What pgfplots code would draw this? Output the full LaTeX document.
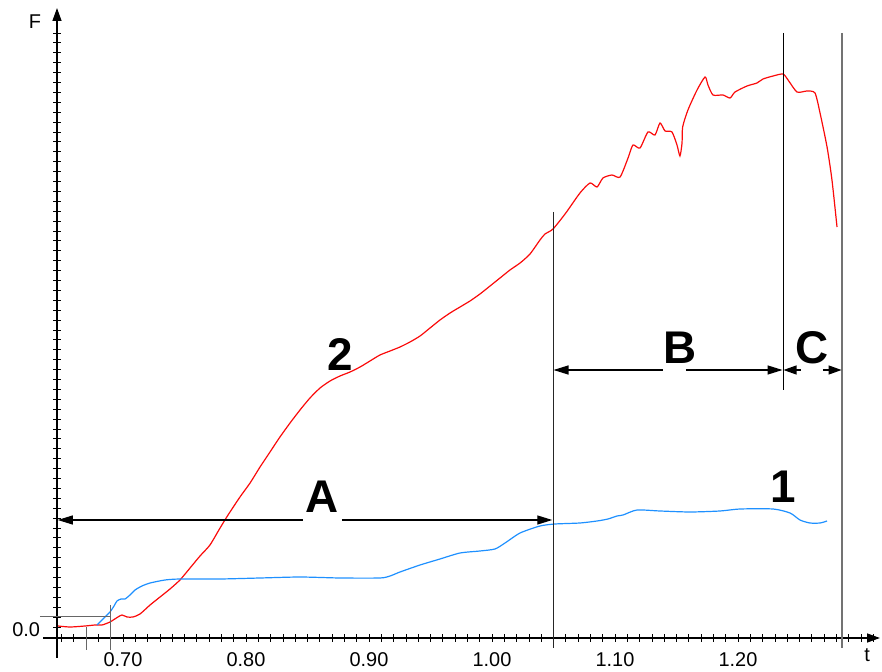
\documentclass[border=0pt]{standalone}
\usepackage{fontspec}
\setmainfont{Liberation Sans}
\usepackage{pgfplots}
\pgfplotsset{compat=1.18}
\usetikzlibrary{arrows.meta}
\definecolor{cblue}{RGB}{30,144,255}
\definecolor{cred}{RGB}{250,10,10}
\begin{document}
\begin{tikzpicture}
\useasboundingbox (0,0) rectangle (882bp,672bp);
\begin{axis}[
 at={(57bp,34bp)}, anchor=south west,
 scale only axis, width=823bp, height=630bp,
 xmin=0.64634, xmax=1.31545, ymin=-1.1, ymax=61.9,
 axis lines*=left,
 axis line style={line width=1.3bp, -{Triangle[length=13bp,width=9bp]}},
 clip=false,
 xtick={0.70,0.80,0.90,1.00,1.10,1.20},
 xticklabels={0.70,0.80,0.90,1.00,1.10,1.20},
 minor xtick={0.65,0.66,...,1.305},
 ytick={0}, yticklabels={0.0},
 minor ytick={0.99,1.98,...,59.5},
 tick align=center,
 major tick length=7bp, minor tick length=7bp,
 tick style={black, line width=0.8bp},
 tick label style={font=\fontsize{20}{24}\selectfont},
 xticklabel style={yshift=-8bp},
 yticklabel style={xshift=-10bp, yshift=-3bp},
]
% curve 2 (red)
\addplot[cred, line width=1.2bp, no markers, smooth, tension=0.4] coordinates {
(0.6472,0.1)(0.6569,0.0)(0.6691,0.1)(0.6772,0.2)(0.6829,0.2)(0.6894,0.5)
(0.6959,1.0)(0.6992,1.2)(0.7033,1.0)(0.7081,1.0)(0.7138,1.3)(0.7220,2.2)
(0.7301,3.0)(0.7382,3.8)(0.7463,4.7)(0.7545,5.9)(0.7626,7.1)(0.7707,8.2)
(0.7789,9.9)(0.7854,11.2)(0.7951,13.0)(0.8033,14.4)(0.8114,16.0)(0.8195,17.5)
(0.8276,19.0)(0.8358,20.4)(0.8439,21.7)(0.8520,22.9)(0.8602,23.9)(0.8683,24.6)
(0.8764,25.1)(0.8846,25.5)(0.8927,26.0)(0.9008,26.6)(0.9089,27.2)(0.9171,27.6)
(0.9252,28.0)(0.9333,28.5)(0.9415,29.1)(0.9496,29.9)(0.9577,30.7)(0.9659,31.4)
(0.9740,32.0)(0.9821,32.6)(0.9902,33.3)(0.9984,34.1)(1.0065,34.9)(1.0146,35.7)
(1.0228,36.4)(1.0309,37.3)(1.0390,38.7)(1.0431,39.3)(1.0496,39.8)(1.0600,41.4)
(1.0715,43.4)(1.0797,44.4)(1.0854,44.0)(1.0902,44.9)(1.0976,45.2)(1.1041,45.0)
(1.1106,46.9)(1.1146,48.2)(1.1203,47.9)(1.1268,49.5)(1.1325,49.2)(1.1366,50.4)
(1.1407,49.6)(1.1463,49.5)(1.1504,48.2)(1.1528,47.1)(1.1545,48.4)(1.1550,50.0)
(1.1593,51.7)(1.1667,53.7)(1.1732,55.0)(1.1756,54.2)(1.1797,53.2)(1.1878,53.2)
(1.1935,52.9)(1.1976,53.5)(1.2073,54.1)(1.2154,54.4)(1.2203,54.8)(1.2285,55.1)
(1.2366,55.3)(1.2407,54.7)(1.2480,53.5)(1.2561,53.6)(1.2626,53.4)(1.2667,51.4)
(1.2724,48.0)(1.2764,44.7)(1.2805,40.0)
};
% curve 1 (blue)
\addplot[cblue, line width=1.2bp, no markers, smooth, tension=0.4] coordinates {
(0.6789,0.2)(0.6854,1.0)(0.6894,1.5)(0.6927,2.1)(0.6951,2.6)(0.6984,2.8)
(0.7016,2.8)(0.7057,3.2)(0.7098,3.7)(0.7154,4.1)(0.7220,4.4)(0.7341,4.7)
(0.7463,4.8)(0.7789,4.8)(0.8114,4.9)(0.8439,5.0)(0.8764,4.9)(0.9089,4.9)
(0.9171,5.1)(0.9252,5.5)(0.9415,6.2)(0.9577,6.8)(0.9740,7.4)(0.9902,7.6)
(1.0024,7.8)(1.0106,8.4)(1.0228,9.4)(1.0390,10.1)(1.0512,10.3)(1.0715,10.4)
(1.0854,10.6)(1.0943,10.8)(1.1016,11.1)(1.1065,11.2)(1.1179,11.7)(1.1366,11.6)
(1.1610,11.5)(1.1854,11.6)(1.2016,11.8)(1.2285,11.8)(1.2423,11.4)(1.2504,10.7)
(1.2585,10.4)(1.2667,10.4)(1.2724,10.6)
};
% axis extensions and guide lines
\draw[black, line width=1.3bp] (axis cs:0.6350,-1.1) -- (axis cs:0.64634,-1.1);
\draw[black, line width=1.3bp] (axis cs:0.64634,-1.1) -- (axis cs:0.64634,-3.1);
\draw[black!60, line width=0.9bp] (axis cs:0.6325,1.1) -- (axis cs:0.6894,1.1);
\draw[black!60, line width=0.9bp] (axis cs:0.6894,2.2) -- (axis cs:0.6894,-2.3);
\draw[black!60, line width=0.9bp] (axis cs:0.6700,0) -- (axis cs:0.6700,-2.3);
\draw[black!85, line width=0.9bp] (axis cs:1.0496,41.5) -- (axis cs:1.0496,-2.1);
\draw[black, line width=0.9bp] (axis cs:1.2366,59.4) -- (axis cs:1.2366,23.7);
\draw[black!55, line width=1.3bp] (axis cs:1.2846,59.4) -- (axis cs:1.2846,-2.1);
% dimension arrows
\draw[line width=1.2bp, -{Triangle[length=15bp,width=9bp]}] (axis cs:0.8463,10.7) -- (axis cs:0.6470,10.7);
\draw[line width=1.2bp, -{Triangle[length=15bp,width=9bp]}] (axis cs:0.8780,10.7) -- (axis cs:1.0490,10.7);
\draw[line width=1.2bp, -{Triangle[length=15bp,width=9bp]}] (axis cs:1.1390,25.7) -- (axis cs:1.0500,25.7);
\draw[line width=1.2bp, -{Triangle[length=15bp,width=9bp]}] (axis cs:1.1577,25.7) -- (axis cs:1.2362,25.7);
\draw[line width=1.2bp, -{Triangle[length=13bp,width=9bp]}] (axis cs:1.2512,25.7) -- (axis cs:1.2370,25.7);
\draw[line width=1.2bp, -{Triangle[length=13bp,width=9bp]}] (axis cs:1.2691,25.7) -- (axis cs:1.2842,25.7);
% labels
\node[font=\fontsize{46}{50}\selectfont\bfseries] at (axis cs:0.8618,13.0) {A};
\node[font=\fontsize{46}{50}\selectfont\bfseries] at (axis cs:1.1528,27.9) {B};
\node[font=\fontsize{46}{50}\selectfont\bfseries] at (axis cs:1.2602,27.9) {C};
\node[font=\fontsize{46}{50}\selectfont\bfseries] at (axis cs:0.8764,27.2) {2};
\node[font=\fontsize{46}{50}\selectfont\bfseries] at (axis cs:1.2366,14.0) {1};
\node[font=\fontsize{20}{24}\selectfont] at (axis cs:0.6285,60.5) {F};
\node[font=\fontsize{20}{24}\selectfont] at (axis cs:1.3049,-2.8) {t};
\end{axis}
\end{tikzpicture}
\end{document}
